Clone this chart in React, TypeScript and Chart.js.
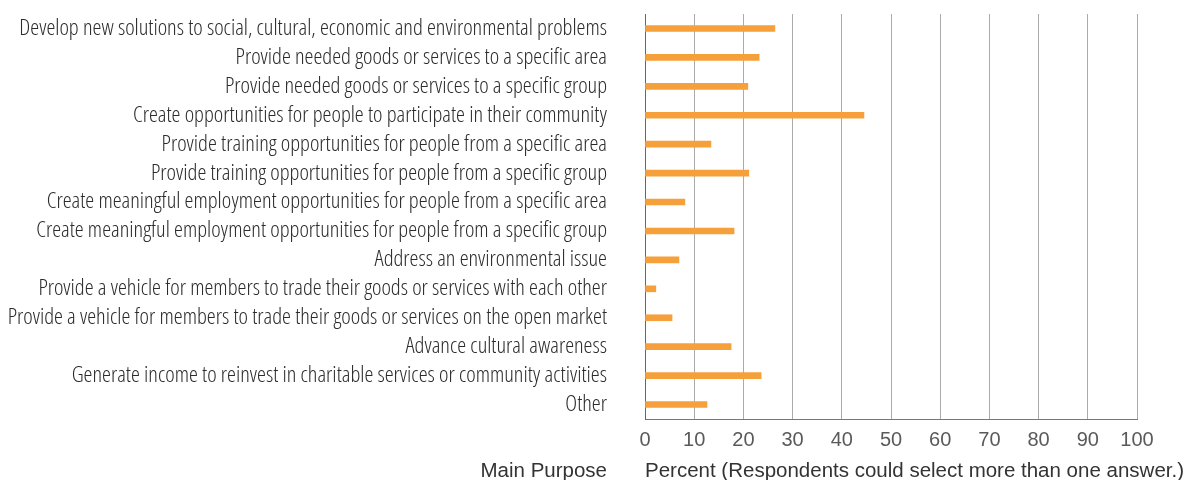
import React, { useEffect, useRef } from "react";
import { Chart, registerables } from "chart.js";

Chart.register(...registerables);

const categories = [
  "Develop new solutions to social, cultural, economic and environmental problems",
  "Provide needed goods or services to a specific area",
  "Provide needed goods or services to a specific group",
  "Create opportunities for people to participate in their community",
  "Provide training opportunities for people from a specific area",
  "Provide training opportunities for people from a specific group",
  "Create meaningful employment opportunities for people from a specific area",
  "Create meaningful employment opportunities for people from a specific group",
  "Address an environmental issue",
  "Provide a vehicle for members to trade their goods or services with each other",
  "Provide a vehicle for members to trade their goods or services on the open market",
  "Advance cultural awareness",
  "Generate income to reinvest in charitable services or community activities",
  "Other",
];

const percentValues = [26.4, 23.2, 20.9, 44.5, 13.4, 21.1, 8.1, 18.1, 6.9, 2.2, 5.5, 17.5, 23.6, 12.6];

const xTickValues = [0, 10, 20, 30, 40, 50, 60, 70, 80, 90, 100];

const yTitle = "Main Purpose";
const xTitle = "Percent (Respondents could select more than one answer.)";

const W = 1187;
const H = 480;
const AXIS_LEFT = 645;
const AXIS_BOTTOM = 419;
const TITLE_FONT = 20.5;
const TITLE_CENTER_FROM_BOTTOM = 8.5;

const axisTitlesPlugin = {
  id: "axisTitlesPlugin",
  afterDraw(chart: any) {
    const { ctx } = chart;
    const yScale = chart.scales.y;
    const xScale = chart.scales.x;
    ctx.save();
    ctx.font = `${TITLE_FONT}px "Liberation Sans", Arial, sans-serif`;
    ctx.fillStyle = "#333333";
    ctx.textBaseline = "middle";
    const titleY = xScale.bottom - TITLE_CENTER_FROM_BOTTOM;
    ctx.textAlign = "right";
    ctx.fillText(yTitle, yScale.right - 38, titleY);
    ctx.textAlign = "left";
    ctx.fillText(xTitle, xScale.left, titleY);
    ctx.restore();
  },
};

export default function App() {
  const canvasRef = useRef<HTMLCanvasElement | null>(null);

  useEffect(() => {
    if (!canvasRef.current) return;
    const chart = new Chart(canvasRef.current, {
      type: "bar",
      data: {
        labels: categories,
        datasets: [
          {
            data: percentValues,
            backgroundColor: "#F5A03B",
            borderWidth: 0,
            barThickness: 6,
          },
        ],
      },
      options: {
        indexAxis: "y",
        animation: false,
        responsive: false,
        maintainAspectRatio: false,
        events: [],
        layout: { padding: { top: 14, right: 50, left: 0, bottom: 0 } },
        plugins: {
          legend: { display: false },
          tooltip: { enabled: false },
        },
        scales: {
          x: {
            min: 0,
            max: 100,
            afterBuildTicks(scale: any) {
              scale.ticks = xTickValues.map((v) => ({ value: v }));
            },
            afterFit(scale: any) {
              scale.height = H - AXIS_BOTTOM;
            },
            grid: {
              color: "#ababab",
              lineWidth: 1,
              drawTicks: false,
            },
            border: { display: true, color: "#777777", width: 1 },
            ticks: {
              padding: 9,
              color: "#5a5a5a",
              font: { family: '"Liberation Sans", Arial, sans-serif', size: 20 },
              maxRotation: 0,
            },
            title: { display: false },
          },
          y: {
            afterFit(scale: any) {
              scale.width = AXIS_LEFT;
              scale.paddingTop = 0;
              scale.paddingBottom = 0;
            },
            grid: { display: false, drawTicks: false },
            border: { display: true, color: "#666666", width: 1 },
            ticks: {
              padding: 38,
              color: "#2b2b2b",
              autoSkip: false,
              font: {
                family: '"Open Sans", "Noto Sans", sans-serif',
                weight: "300 condensed" as any,
                size: 22.5,
              },
            },
          },
        },
      },
      plugins: [axisTitlesPlugin],
    });
    return () => chart.destroy();
  }, []);

  return (
    <div style={{ position: "absolute", left: 0, top: 0, width: W, height: H, background: "#ffffff" }}>
      <canvas ref={canvasRef} width={W} height={H} style={{ width: W, height: H, display: "block" }} />
    </div>
  );
}
